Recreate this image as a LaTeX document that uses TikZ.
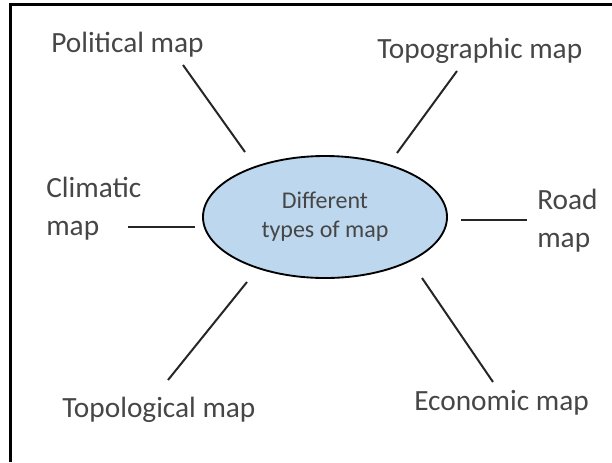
\documentclass[tikz,border=0pt]{standalone}
\usepackage{fontspec}
\setmainfont{Carlito}
\usetikzlibrary{shapes.geometric}

\begin{document}
\begin{tikzpicture}[x=0.75pt,y=-0.75pt]

% Couleurs
\definecolor{fondBulle}{RGB}{189, 215, 238} % bleu clair de la bulle
\definecolor{texteGris}{RGB}{70, 70, 70}    % gris du texte

% Styles
\tikzset{
  etiquette/.style={font=\fontsize{22}{28.5}\selectfont, text=texteGris,
    inner sep=0pt, align=left, anchor=base west},
  rayon/.style={line width=1.5pt, draw=black!85},
}

\useasboundingbox (0,0) rectangle (612,462);

% Cadre (haut et gauche seulement)
\draw[line width=2.25pt] (612,4.5) -- (10.5,4.5) -- (10.5,462);

% Bulle centrale
\node[ellipse, draw, line width=1.4pt, fill=fondBulle, minimum width=183pt,
  minimum height=91.5pt, inner sep=0pt, align=center,
  font=\fontsize{18}{21.75}\selectfont, text=texteGris] (bulle) at (325,217)
  {Different\\types of map};

% Etiquettes (ancre sur la ligne de base de la dernière ligne)
\node[etiquette] (politique) at (51,52) {Political map};
\node[etiquette] (topographique) at (377,58) {Topographic map};
\node[etiquette] (climat) at (46,235) {Climatic\\map};
\node[etiquette] (route) at (537,247) {Road\\map};
\node[etiquette] (topologique) at (62,417) {Topological map};
\node[etiquette] (economie) at (414,410) {Economic map};

% Extrémités des rayons
\coordinate (pol-a) at (183,65);  \coordinate (pol-b) at (245,152);
\coordinate (topo-a) at (457,71); \coordinate (topo-b) at (397,153);
\coordinate (cli-a) at (128,227); \coordinate (cli-b) at (195,227);
\coordinate (rou-a) at (461,220); \coordinate (rou-b) at (527,220);
\coordinate (tpl-a) at (247,282); \coordinate (tpl-b) at (168,380);
\coordinate (eco-a) at (422,278); \coordinate (eco-b) at (493,382);

% Rayons
\draw[rayon] (pol-a) -- (pol-b);   % politique
\draw[rayon] (topo-a) -- (topo-b); % topographique
\draw[rayon] (cli-a) -- (cli-b);   % climatique
\draw[rayon] (rou-a) -- (rou-b);   % routière
\draw[rayon] (tpl-a) -- (tpl-b);   % topologique
\draw[rayon] (eco-a) -- (eco-b);   % économique

\end{tikzpicture}
\end{document}
